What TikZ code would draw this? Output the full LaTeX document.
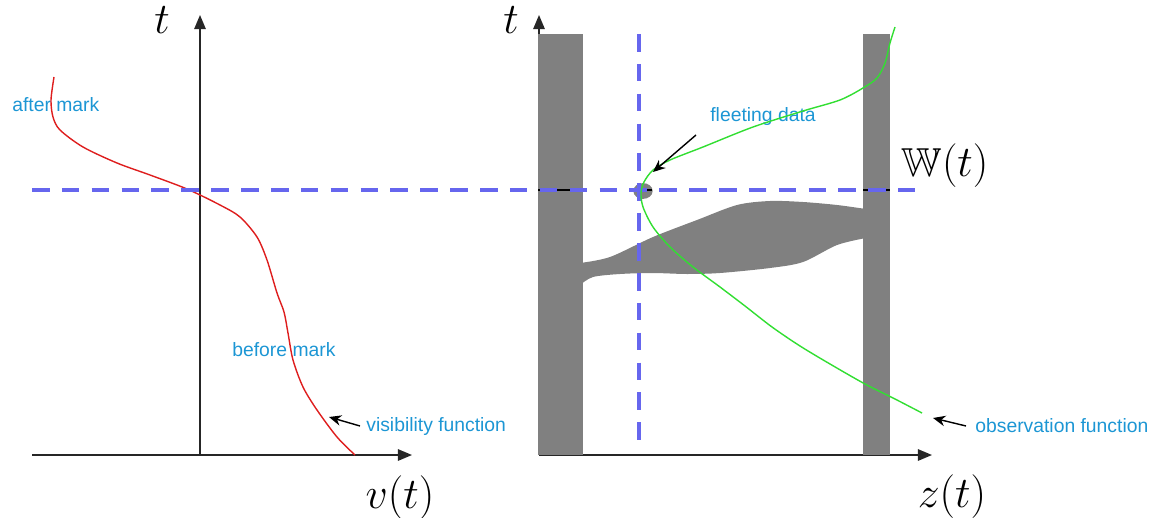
\documentclass[tikz,border=0pt]{standalone}
\usepackage{amsmath,amssymb}
\usepackage{fontspec}
\usepackage{tikz}
\usetikzlibrary{arrows.meta, positioning, shapes.geometric}
\newfontfamily\notefont{Liberation Sans}
\definecolor{markblue}{RGB}{102,102,238}
\definecolor{notecolor}{RGB}{28,150,212}
\definecolor{visred}{RGB}{222,30,30}
\definecolor{obsgreen}{RGB}{50,222,50}
\tikzset{
    axis/.style={draw=black!85, line width=0.9pt, -{Triangle[length=8pt, width=6.5pt]}},
    markline/.style={draw=markblue, line width=2.3pt, dash pattern=on 10pt off 7pt},
    note/.style={font=\notefont\fontsize{11}{13}\selectfont, text=notecolor, inner sep=0pt, anchor=west},
    mathlabel/.style={inner sep=0pt, font=\fontsize{24}{28}\selectfont},
    pointer/.style={draw, line width=0.8pt, -{Stealth[length=7pt, width=6pt]}},
    bar/.style={fill=gray},
}

\begin{document}
\begin{tikzpicture}[x=0.02cm, y=-0.02cm]
    \useasboundingbox (0,0) rectangle (1158,517);

    % Left: visibility function
    \coordinate (o1) at (200,455);
    \draw[axis] (32,455) -- (412,455);
    \draw[axis] (o1) -- (200,15);
    \node[mathlabel] (t1) at (162,20) {$t$};
    \node[mathlabel] (v) at (400,498) {$v(t)$};
    \node[note] (after) at (12,105) {after mark};
    \node[note] (before) at (232,350) {before mark};
    \node[note] (visfun) at (366,426) {visibility function};
    \draw[visred, line width=0.8pt] plot[smooth] coordinates {(54,77) (51,100) (53,117) (60,130) (83,147) (117,163)
        (150,175) (187,189) (220,205) (240,217) (257,237) (267,260) (277,293) (284,312) (288,333)
        (293,360) (303,387) (317,410) (337,437) (355,455)};
    \coordinate (vistip) at (329,417);
    \draw[pointer] (visfun.west) ++(-6,0) -- (vistip);

    % Right: observation function
    \draw[axis] (539,455) -- (932,455);
    \draw[axis] (539,455) -- (539,15);
    \node[mathlabel] (t2) at (511,20) {$t$};
    \node[mathlabel] (z) at (952,497) {$z(t)$};
    \node[mathlabel, font=\fontsize{23}{27}\selectfont] (w) at (945,166) {$\mathbb{W}(t)$};
    \fill[bar] (538,34) rectangle (583,455);
    \fill[bar] (863,34) rectangle (890,455);
    \fill[bar] plot[smooth] coordinates {(580,263) (610,257) (653,237) (697,220) (737,205) (770,201)
        (803,202) (837,205) (866,209)}
        -- plot[smooth] coordinates {(866,238) (837,245) (803,262) (770,268) (720,273) (687,274)
        (653,273) (620,274) (593,277) (580,285)} -- cycle;
    \node[ellipse, fill=gray, minimum width=11pt, minimum height=9pt, inner sep=0pt] (dot) at (643,191) {};
    \draw[line width=0.6pt] (538,190) -- (583,190) (632,190) -- (652,190) (863,190) -- (890,190);

    % Mark
    \draw[markline] (32,190) -- (915,190);
    \draw[markline] (639,34) -- (639,452);

    \node[note] (fleet) at (710,117) {fleeting data};
    \node[note] (obsfun) at (975,426) {observation function};
    \draw[obsgreen, line width=0.8pt] plot[smooth] coordinates {(895,27) (890,43) (885,63) (877,78) (863,88) (840,100)
        (803,111) (753,127) (703,147) (670,160) (653,170) (644,182) (641,193) (643,207) (653,227)
        (670,247) (693,267) (720,287) (745,306) (772,327) (800,346) (830,364) (865,384) (895,399) (922,413)};
    \coordinate (fleettip) at (653,172);
    \coordinate (fleettail) at (696,135);
    \coordinate (obstip) at (933,418);
    \draw[pointer] (fleettail) -- (fleettip);
    \draw[pointer] (obsfun.west) ++(-9,0) -- (obstip);
\end{tikzpicture}
\end{document}
